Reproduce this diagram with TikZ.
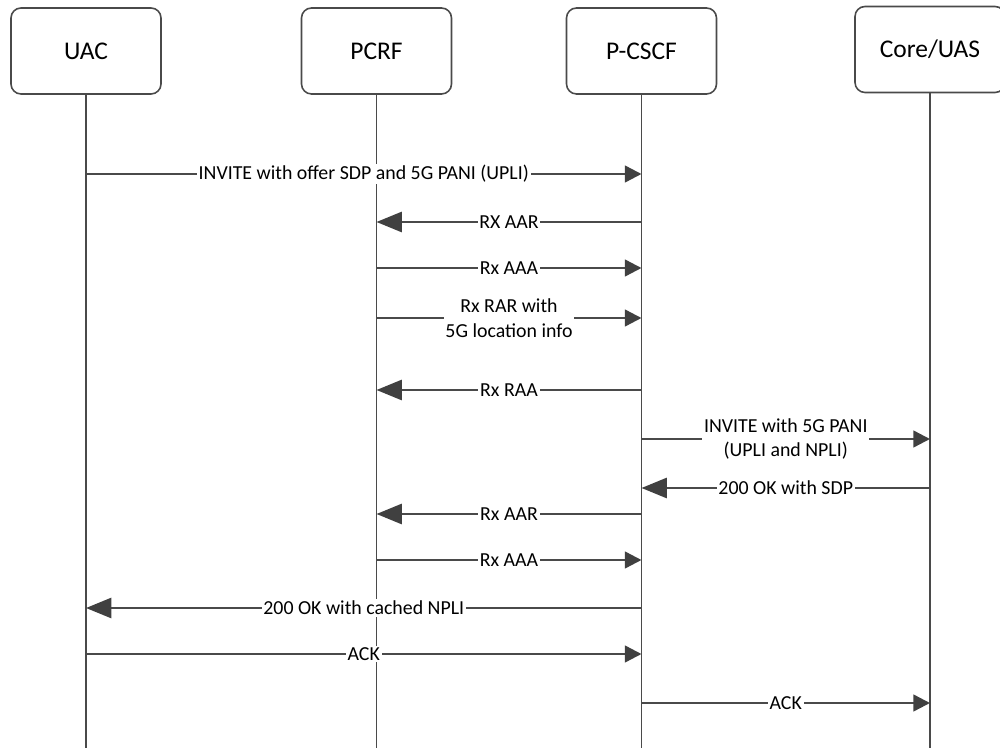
\documentclass[tikz,border=0pt]{standalone}
\usepackage{fontspec}
\setmainfont{Carlito}
\usetikzlibrary{arrows.meta}
\definecolor{linegray}{HTML}{4a4a4a}
\definecolor{headgray}{HTML}{404040}

\begin{document}
\begin{tikzpicture}[
    actor/.style={draw=linegray, line width=0.9pt, fill=white, rounded corners=0.2cm,
        minimum width=3cm, minimum height=1.72cm, font=\fontsize{14.5}{17}\selectfont},
    life/.style={draw=linegray, line width=1.1pt},
    msgfwd/.style={draw=linegray, line width=1.4pt,
        -{Triangle[length=9.5pt, width=9.5pt, color=headgray]}},
    msgback/.style={draw=linegray, line width=1.4pt,
        -{Triangle[length=14.5pt, width=11.5pt, color=headgray]}},
    lbl/.style={fill=white, inner sep=1pt, align=center, text=black,
        font=\fontsize{11.3}{14}\selectfont}
]
    \useasboundingbox (0,0) rectangle (20,-14.96);
    \node[actor] (uac) at (1.72,-1.02) {UAC};
    \node[actor] (pcrf) at (7.53,-1.02) {PCRF};
    \node[actor] (pcscf) at (12.83,-1.02) {P-CSCF};
    \node[actor] (core) at (18.6,-0.99) {Core/UAS};
    \foreach \a in {uac,pcrf,pcscf,core}
        \draw[life] (\a.south) -- (\a |- 0,-14.96);
    \foreach \y/\f/\t/\s/\lab in {
        3.48/uac/pcscf/msgfwd/{INVITE with offer SDP and 5G PANI (UPLI)},
        4.44/pcscf/pcrf/msgback/{RX AAR},
        5.36/pcrf/pcscf/msgfwd/{Rx AAA},
        6.36/pcrf/pcscf/msgfwd/{Rx RAR with\\5G location info},
        7.80/pcscf/pcrf/msgback/{Rx RAA},
        8.78/pcscf/core/msgfwd/{INVITE with 5G PANI\\(UPLI and NPLI)},
        9.76/core/pcscf/msgback/{200 OK with SDP},
        10.28/pcscf/pcrf/msgback/{Rx AAR},
        11.20/pcrf/pcscf/msgfwd/{Rx AAA},
        12.16/pcscf/uac/msgback/{200 OK with cached NPLI},
        13.08/uac/pcscf/msgfwd/{ACK},
        14.06/pcscf/core/msgfwd/{ACK}}
        \draw[\s] (\f |- 0,-\y) -- (\t |- 0,-\y) node[midway, lbl] {\lab};
\end{tikzpicture}
\end{document}
